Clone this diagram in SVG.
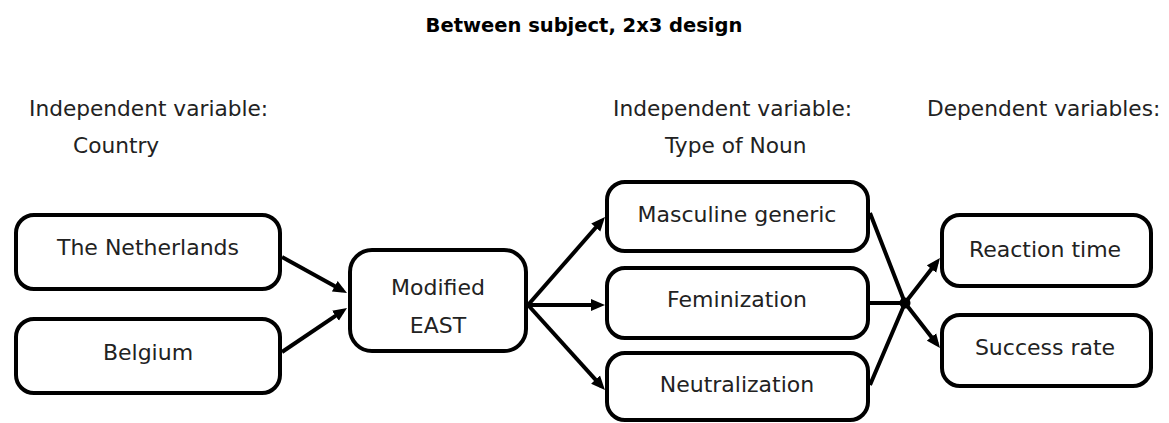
<svg xmlns="http://www.w3.org/2000/svg" width="1169" height="423" viewBox="0 0 1169 423">
<style>
.box{fill:#fff;stroke:#000;stroke-width:4}
.t{font-family:"DejaVu Sans",sans-serif;font-size:22px;fill:#222;text-anchor:middle}
.lbl{font-family:"DejaVu Sans",sans-serif;font-size:21.7px;fill:#222}
.title{font-family:"DejaVu Sans",sans-serif;font-size:19.5px;font-weight:bold;fill:#000;text-anchor:middle}
.c{fill:none;stroke:#000;stroke-width:4;stroke-linejoin:round}
</style>
<defs>
<marker id="ah" viewBox="0 0 14 13" refX="9" refY="6.5" markerWidth="14" markerHeight="13" markerUnits="userSpaceOnUse" orient="auto">
<path d="M0,0.5 L14,6.5 L0,12.5 z" fill="#000"/>
</marker>
</defs>
<rect width="1169" height="423" fill="#fff"/>
<text class="title" x="584" y="32">Between subject, 2x3 design</text>
<g id="labels">
<text class="lbl" x="29" y="116">Independent variable:</text>
<text class="lbl" x="73" y="153">Country</text>
<text class="lbl" x="613" y="116">Independent variable:</text>
<text class="lbl" x="665" y="153">Type of Noun</text>
<text class="lbl" x="927" y="116">Dependent variables:</text>
</g>
<g id="connectors">
<line class="c" x1="282" y1="257" x2="342.6" y2="290.6" marker-end="url(#ah)"/>
<line class="c" x1="282" y1="352" x2="342.9" y2="310.8" marker-end="url(#ah)"/>
<line class="c" x1="528" y1="305" x2="601.7" y2="220.8" marker-end="url(#ah)"/>
<line class="c" x1="528" y1="305" x2="600" y2="305" marker-end="url(#ah)"/>
<line class="c" x1="528" y1="305" x2="601.6" y2="386.3" marker-end="url(#ah)"/>
<polyline class="c" points="870,213 905,303 936.9,344.1" marker-end="url(#ah)"/>
<line class="c" x1="870" y1="303" x2="905" y2="303"/>
<polyline class="c" points="870,385 905,303 936.9,261.9" marker-end="url(#ah)"/>
<circle cx="905" cy="303" r="5.5" fill="#000"/>
</g>
<g id="netherlands">
<rect class="box" x="16" y="215" width="264" height="74" rx="18"/>
<text class="t" x="148" y="255">The Netherlands</text>
</g>
<g id="belgium">
<rect class="box" x="16" y="319" width="264" height="74" rx="18"/>
<text class="t" x="148" y="360">Belgium</text>
</g>
<g id="modified-east">
<rect class="box" x="350" y="250" width="176" height="101" rx="22"/>
<text class="t" x="438" y="295">Modified</text>
<text class="t" x="438" y="333">EAST</text>
</g>
<g id="masculine">
<rect class="box" x="607" y="182" width="261" height="69" rx="18"/>
<text class="t" x="737" y="222">Masculine generic</text>
</g>
<g id="feminization">
<rect class="box" x="607" y="268" width="261" height="70" rx="18"/>
<text class="t" x="737" y="307">Feminization</text>
</g>
<g id="neutralization">
<rect class="box" x="607" y="353" width="261" height="67" rx="18"/>
<text class="t" x="737" y="392">Neutralization</text>
</g>
<g id="reaction-time">
<rect class="box" x="942" y="215" width="209" height="71" rx="18"/>
<text class="t" x="1045" y="257">Reaction time</text>
</g>
<g id="success-rate">
<rect class="box" x="942" y="315" width="209" height="71" rx="18"/>
<text class="t" x="1045" y="355">Success rate</text>
</g>
</svg>
